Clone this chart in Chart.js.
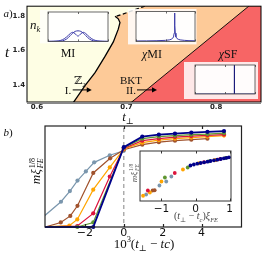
<!DOCTYPE html>
<html>
<head>
<meta charset="utf-8">
<script src="https://cdn.jsdelivr.net/npm/chart.js@4.4.1/dist/chart.umd.min.js"></script>
<style>
html, body { margin: 0; padding: 0; background: #fff; }
#fig { position: relative; width: 266px; height: 259px; overflow: hidden; font-family: "Liberation Serif", "DejaVu Serif", serif; color: #111; }
canvas { position: absolute; }
.lbl { position: absolute; white-space: nowrap; line-height: 1; transform: translate(-50%, -50%); }
.rot { transform: translate(-50%, -50%) rotate(-90deg); }
.ss { display: inline-flex; flex-direction: column; vertical-align: middle; font-size: 62%; line-height: 1.05; font-style: normal; margin-left: 1px; }
sub, sup { font-size: 65%; line-height: 0; }
</style>
</head>
<body>
<div id="fig">
  <canvas id="phase" width="266" height="125" style="left:0;top:0;width:266px;height:125px"></canvas>
  <canvas id="ins1" width="76" height="40" style="left:36px;top:6px;width:76px;height:40px"></canvas>
  <canvas id="ins2" width="75" height="41" style="left:124px;top:5px;width:75px;height:41px"></canvas>
  <canvas id="ins3" width="76" height="40" style="left:183px;top:59px;width:76px;height:40px"></canvas>
  <canvas id="scaling" width="266" height="139" style="left:0;top:120px;width:266px;height:139px"></canvas>
  <canvas id="collapse" width="130" height="85" style="left:120px;top:140px;width:130px;height:85px"></canvas>

  <div class="lbl" style="left:8px;top:13px;font-size:11px"><i>a</i>)</div>
  <div class="lbl" style="left:7px;top:52px;font-size:15px"><i>t</i></div>
  <div class="lbl" style="left:128px;top:116px;font-size:13px"><i>t</i><sub>⊥</sub></div>
  <div class="lbl" style="left:35px;top:24px;font-size:13px"><i>n<sub>k</sub></i></div>
  <div class="lbl" style="left:68px;top:53px;font-size:12px">MI</div>
  <div class="lbl" style="left:152px;top:54px;font-size:12px"><i>χ</i>MI</div>
  <div class="lbl" style="left:228px;top:54px;font-size:12px"><i>χ</i>SF</div>
  <div class="lbl" style="left:80px;top:80px;font-size:11px">ℤ<sub>2</sub></div>
  <div class="lbl" style="left:68px;top:90px;font-size:11px">I.</div>
  <div class="lbl" style="left:131px;top:80px;font-size:11px">BKT</div>
  <div class="lbl" style="left:131px;top:90px;font-size:11px">II.</div>

  <div class="lbl" style="left:8px;top:132px;font-size:11px"><i>b</i>)</div>
  <div class="lbl rot" style="left:37px;top:171px;font-size:13px"><i>mξ</i><span class="ss"><span>1/8</span><span><i>FE</i></span></span></div>
  <div class="lbl" style="left:144px;top:243px;font-size:13px">10<sup>3</sup>(<i>t</i><sub>⊥</sub> − <i>tc</i>)</div>
  <div class="lbl rot" style="left:135px;top:173px;font-size:9px;color:#555"><i>mξ</i><span class="ss"><span>1/8</span><span><i>FE</i></span></span></div>
  <div class="lbl" style="left:196px;top:216px;font-size:10px;color:#444">(<i>t</i><sub>⊥</sub> − <i>t<sub>c</sub></i>)<i>ξ<sub>FE</sub></i></div>
</div>

<script>
// ---------- panel a) phase diagram ----------
const tPerpMin = 0.589, tPerpMax = 0.85;
const tMin = 1.3, tMax = 1.855;

// Z2 transition line (MI | chi MI), solid part
const z2X = [0.6403, 0.6414, 0.6537, 0.6649, 0.6760, 0.6853, 0.6908, 0.6927, 0.6908, 0.6872];
const z2Y = [1.294, 1.302, 1.395, 1.470, 1.564, 1.648, 1.722, 1.760, 1.782, 1.797];
// dashed continuation
const dashX = [0.6890, 0.7050, 0.7215];
const dashY = [1.797, 1.826, 1.858];
// BKT line (chi MI | chi SF)
const bktX = [0.7039, 0.8370];
const bktY = [1.292, 1.858];

// arrows: [from t_perp, to t_perp, t]
const arrowI = [0.640, 0.6612, 1.370];
const arrowII = [0.7117, 0.734, 1.370];

// insets: momentum distributions n_k
const kGrid = [-3.14, -2.8, -2.4, -2.0, -1.6, -1.2, -0.8, -0.55, -0.3, 0, 0.3, 0.55, 0.8, 1.2, 1.6, 2.0, 2.4, 2.8, 3.14];
const nkMISingle = [0.0, 0.01, 0.03, 0.07, 0.2, 0.8, 2.0, 2.8, 3.4, 3.6, 3.4, 2.8, 2.0, 0.8, 0.2, 0.07, 0.03, 0.01, 0.0];
const nkMIDouble = [0.01, 0.03, 0.08, 0.2, 0.6, 1.5, 2.7, 3.1, 2.6, 1.8, 2.6, 3.1, 2.7, 1.5, 0.6, 0.2, 0.08, 0.03, 0.01];
const kChi = [-3.14, -2.0, -1.0, 0.0, 0.4, 0.6, 0.75, 0.85, 0.92, 0.96, 0.98, 1.0, 1.04, 1.11, 1.21, 1.36, 1.56, 2.0, 2.5, 3.14];
const nkChiMI = [0.3, 0.35, 0.45, 0.7, 1.0, 1.4, 2.0, 3.0, 5.5, 10.5, 19.0, 10.5, 5.5, 3.0, 2.0, 1.4, 1.0, 0.7, 0.5, 0.4];
const kSF = [-3.14, 0.97, 0.98, 0.99, 3.14];
const nkChiSF = [0, 0, 400, 0, 0];

// ---------- panel b) scaling of the order parameter ----------
const grayX = [-4.2, -3.23, -2.77, -2.38, -1.95, -1.52, -0.72, 0.0];
const grayY = [0.09, 0.25, 0.356, 0.46, 0.55, 0.64, 0.71, 0.755];
const brownX = [-4.2, -3.24, -2.75, -2.38, -1.57, -0.70, 0.0, 0.95, 1.8, 2.63, 3.47, 4.3];
const brownY = [-0.01, 0.045, 0.11, 0.21, 0.535, 0.68, 0.765, 0.815, 0.84, 0.855, 0.865, 0.875];
const orangeX = [-4.2, -2.8, -2.39, -1.57, -0.72, 0.0, 0.95, 1.8, 2.63, 3.47, 4.3, 5.15];
const orangeY = [0.0, 0.013, 0.075, 0.37, 0.59, 0.772, 0.835, 0.86, 0.875, 0.885, 0.895, 0.905];
const redX = [-4.2, -2.39, -1.57, -0.72, 0.0, 0.95, 1.8, 2.63, 3.47, 4.3, 5.15];
const redY = [0.0, 0.01, 0.135, 0.5, 0.778, 0.855, 0.875, 0.89, 0.9, 0.908, 0.915];
const greenX = [-4.2, -2.39, -1.57, 0.0, 0.95, 1.8, 2.63, 3.47, 4.3, 5.15];
const greenY = [0.0, 0.0, 0.045, 0.785, 0.875, 0.895, 0.905, 0.915, 0.92, 0.93];
const navyX = [-4.2, -1.57, 0.0, 0.95, 1.8, 2.63, 3.47, 4.3, 5.15];
const navyY = [0.0, 0.0, 0.79, 0.895, 0.915, 0.925, 0.935, 0.942, 0.95];
const xTicksB = [-2, 0, 2, 4];

// inset of b): data collapse
const cGrayX = [-1.45, -1.06, -0.86, -0.71];
const cGrayY = [0.13, 0.31, 0.39, 0.49];
const cBrownX = [-1.26, -1.2, 0.6];
const cBrownY = [0.21, 0.215, 0.82];
const cOrangeX = [-1.54, -1.34, -1.0, -0.37, 0.1, 0.55];
const cOrangeY = [0.105, 0.17, 0.39, 0.63, 0.755, 0.815];
const cRedX = [-1.40, -0.61, 0.25, 0.72];
const cRedY = [0.21, 0.56, 0.775, 0.84];
const cGreenX = [-0.9, -0.23, 0.4, 0.88];
const cGreenY = [0.47, 0.67, 0.795, 0.86];
const cNavyX = [-0.15, -0.05, 0.05, 0.15, 0.25, 0.35, 0.44, 0.54, 0.64, 0.74, 0.83, 0.91, 0.98];
const cNavyY = [0.71, 0.73, 0.747, 0.76, 0.773, 0.787, 0.8, 0.813, 0.827, 0.84, 0.853, 0.863, 0.873];

const C = { gray: '#7a96ad', brown: '#a0522d', orange: '#ffa500', red: '#dc143c', green: '#5f9630', navy: '#00008b' };

const pts = (xs, ys) => xs.map((x, i) => ({ x, y: ys[i] }));
const minus = v => String(v).replace('-', '\u2212');

// background, frame and inward ticks around the chart area
const frame = {
  id: 'frame',
  beforeDraw(chart, args, o) {
    const { ctx, chartArea: a } = chart;
    ctx.save();
    if (o.outer) {
      const r = o.outer;
      ctx.fillStyle = r.color;
      ctx.fillRect(a.left - r.l, a.top - r.t, a.width + r.l + r.r, a.height + r.t + r.b);
    }
    if (o.fill) {
      ctx.fillStyle = o.fill;
      ctx.fillRect(a.left, a.top, a.width, a.height);
    }
    ctx.restore();
  },
  afterDraw(chart, args, o) {
    const { ctx, chartArea: a } = chart;
    ctx.save();
    ctx.strokeStyle = o.color || '#000';
    ctx.lineWidth = o.width || 1;
    if (o.inTicks) {
      const xs = chart.scales.x;
      ctx.beginPath();
      xs.ticks.forEach(t => {
        const p = Math.round(xs.getPixelForValue(t.value)) + 0.5;
        ctx.moveTo(p, a.top); ctx.lineTo(p, a.top + o.inTicks);
        ctx.moveTo(p, a.bottom); ctx.lineTo(p, a.bottom - o.inTicks);
      });
      ctx.stroke();
    }
    ctx.strokeRect(a.left, a.top, a.width, a.height);
    if (o.bottom) {
      ctx.strokeStyle = o.bottom.color;
      ctx.lineWidth = o.bottom.width;
      ctx.beginPath();
      ctx.moveTo(a.left, a.bottom + o.bottom.width / 2);
      ctx.lineTo(a.right, a.bottom + o.bottom.width / 2);
      ctx.stroke();
    }
    ctx.restore();
  }
};

const arrows = {
  id: 'arrows',
  afterDatasetsDraw(chart, args, o) {
    const { ctx, scales: { x, y } } = chart;
    ctx.save();
    ctx.strokeStyle = '#000';
    ctx.fillStyle = '#000';
    ctx.lineWidth = 1;
    for (const [x0, x1, yv] of o.list) {
      const p0 = x.getPixelForValue(x0), p1 = x.getPixelForValue(x1), py = y.getPixelForValue(yv);
      ctx.beginPath(); ctx.moveTo(p0, py); ctx.lineTo(p1 - 3, py); ctx.stroke();
      ctx.beginPath(); ctx.moveTo(p1, py); ctx.lineTo(p1 - 5, py - 2.6); ctx.lineTo(p1 - 5, py + 2.6); ctx.closePath(); ctx.fill();
    }
    ctx.restore();
  }
};

const base = { responsive: false, animation: false, events: [] };
const noLegend = { legend: { display: false }, tooltip: { enabled: false } };

// ---- panel a) ----
const chiMIRegion = [...pts(z2X, z2Y), ...pts(dashX, dashY),
  { x: tPerpMax + 0.01, y: tMax + 0.01 }, { x: tPerpMax + 0.01, y: tMin - 0.01 }];
const chiSFRegion = [...pts(bktX, bktY),
  { x: tPerpMax + 0.01, y: tMax + 0.01 }, { x: tPerpMax + 0.01, y: tMin - 0.01 }];

new Chart(document.getElementById('phase'), {
  type: 'scatter',
  data: {
    datasets: [
      { data: chiSFRegion, showLine: true, fill: 'shape', backgroundColor: '#f76565', borderWidth: 0, pointRadius: 0, order: 2 },
      { data: chiMIRegion, showLine: true, fill: 'shape', backgroundColor: '#fdca98', borderWidth: 0, pointRadius: 0, order: 3 },
      { data: pts(z2X, z2Y), showLine: true, borderColor: '#000', borderWidth: 1.3, pointRadius: 0, order: 1 },
      { data: pts(dashX, dashY), showLine: true, borderColor: '#000', borderWidth: 1.3, borderDash: [4, 2.5], pointRadius: 0, order: 1 },
      { data: pts(bktX, bktY), showLine: true, borderColor: '#000', borderWidth: 0.9, pointRadius: 0, order: 1 }
    ]
  },
  options: {
    ...base,
    layout: { padding: { left: 0, top: 3, right: 5, bottom: 0 } },
    scales: {
      x: {
        type: 'linear', min: tPerpMin, max: tPerpMax,
        afterFit: s => { s.height = 23; },
        grid: { display: false, drawTicks: false }, border: { display: false },
        ticks: { stepSize: 0.1, includeBounds: false, padding: 1, color: '#222', font: { family: 'DejaVu Sans', size: 7, weight: 'bold' } }
      },
      y: {
        type: 'linear', min: tMin, max: tMax,
        afterFit: s => { s.width = 27; },
        grid: { display: false, drawTicks: false }, border: { display: false },
        ticks: { stepSize: 0.2, includeBounds: false, padding: 2, color: '#222', font: { family: 'DejaVu Sans', size: 7, weight: 'bold' } }
      }
    },
    plugins: {
      ...noLegend,
      frame: { fill: '#fefee4', color: '#000', width: 1, bottom: { color: '#888', width: 2 } },
      arrows: { list: [arrowI, arrowII] }
    }
  },
  plugins: [frame, arrows]
});

// ---- insets of a) ----
function inset(id, datasets, yMax, pad, outer) {
  new Chart(document.getElementById(id), {
    type: 'scatter',
    data: { datasets },
    options: {
      ...base,
      layout: { padding: pad },
      scales: {
        x: { type: 'linear', min: -3.14, max: 3.14, display: false, ticks: { stepSize: 1.57 } },
        y: {
          type: 'linear', min: 0, max: yMax,
          afterFit: s => { s.width = 0; },
          grid: { display: false, drawTicks: false }, border: { display: false },
          ticks: { stepSize: yMax, padding: 1, color: '#333', font: { family: 'DejaVu Sans', size: 6 } }
        }
      },
      plugins: {
        ...noLegend,
        frame: { fill: 'rgba(255,255,255,0.88)', color: '#444', width: 0.8, inTicks: 2, outer }
      }
    },
    plugins: [frame]
  });
}
const blue = '#3b3ba8';
inset('ins1', [
  { data: pts(kGrid, nkMISingle), showLine: true, borderColor: blue, borderWidth: 1, pointRadius: 0, tension: 0.3 },
  { data: pts(kGrid, nkMIDouble), showLine: true, borderColor: blue, borderWidth: 1, pointRadius: 0, tension: 0.3 }
], 10, { left: 12, top: 6, right: 4, bottom: 4 }, { color: 'rgba(255,255,255,0.7)', l: 8, t: 2, r: 2, b: 2 });
inset('ins2', [
  { data: pts(kChi, nkChiMI), showLine: true, borderColor: blue, borderWidth: 1, pointRadius: 0 }
], 20, { left: 12, top: 6.5, right: 4, bottom: 4 }, { color: 'rgba(255,255,255,0.85)', l: 8, t: 2.5, r: 1.5, b: 3 });
inset('ins3', [
  { data: pts(kSF, nkChiSF), showLine: true, borderColor: '#1a1a7a', borderWidth: 1, pointRadius: 0 }
], 400, { left: 12, top: 6, right: 4, bottom: 5 }, { color: 'rgba(255,255,255,0.85)', l: 11, t: 3, r: 3, b: 5 });

// ---- panel b) ----
function series(xs, ys, color, width) {
  return {
    data: pts(xs, ys), showLine: true, borderColor: color, backgroundColor: color,
    borderWidth: width, pointRadius: 2.1, pointBorderWidth: 0,
    clip: { left: 0, top: 5, right: 5, bottom: 3 }
  };
}
new Chart(document.getElementById('scaling'), {
  type: 'scatter',
  data: {
    datasets: [
      { ...series(navyX, navyY, C.navy, 1.8), order: 1 },
      { ...series(greenX, greenY, C.green, 1.2), order: 2 },
      { ...series(redX, redY, C.red, 1.2), order: 3 },
      { ...series(orangeX, orangeY, C.orange, 1.2), order: 4 },
      { ...series(brownX, brownY, C.brown, 1.2), order: 5 },
      { ...series(grayX, grayY, C.gray, 1.2), order: 6 },
      { data: [{ x: 0, y: -0.1 }, { x: 0, y: 1.1 }], showLine: true, borderColor: '#999', borderWidth: 1.2, borderDash: [4, 3], pointRadius: 0, order: 9 }
    ]
  },
  options: {
    ...base,
    layout: { padding: { left: 45, top: 6, right: 24.5, bottom: 0 } },
    scales: {
      x: {
        type: 'linear', min: -4.05, max: 6.05,
        afterFit: s => { s.height = 32; },
        grid: { display: false, drawTicks: false }, border: { display: false },
        afterBuildTicks: s => { s.ticks = xTicksB.map(v => ({ value: v })); },
        ticks: { padding: 0, color: '#111', font: { family: 'DejaVu Sans', size: 11 }, callback: minus }
      },
      y: { type: 'linear', min: 0, max: 1, display: false }
    },
    plugins: { ...noLegend, frame: { color: '#222', width: 1.2, inTicks: 3 } }
  },
  plugins: [frame]
});

// ---- inset of b) ----
const dot = (xs, ys, color) => ({ data: pts(xs, ys), backgroundColor: color, pointRadius: 1.9, pointBorderWidth: 0 });
new Chart(document.getElementById('collapse'), {
  type: 'scatter',
  data: {
    datasets: [
      dot(cNavyX, cNavyY, C.navy),
      dot(cGreenX, cGreenY, C.green),
      dot(cRedX, cRedY, C.red),
      dot(cOrangeX, cOrangeY, C.orange),
      dot(cBrownX, cBrownY, C.brown),
      dot(cGrayX, cGrayY, C.gray)
    ]
  },
  options: {
    ...base,
    layout: { padding: { left: 20, top: 11, right: 19, bottom: 0 } },
    scales: {
      x: {
        type: 'linear', min: -1.63, max: 1.04,
        afterFit: s => { s.height = 24; },
        grid: { display: false, drawTicks: false }, border: { display: false },
        ticks: { stepSize: 1, includeBounds: false, padding: 1.5, color: '#111', font: { family: 'DejaVu Sans', size: 10.5 }, callback: minus }
      },
      y: { type: 'linear', min: 0, max: 1, display: false }
    },
    plugins: { ...noLegend, frame: { fill: '#fff', color: '#333', width: 1, inTicks: 2.5 } }
  },
  plugins: [frame]
});
</script>
</body>
</html>
